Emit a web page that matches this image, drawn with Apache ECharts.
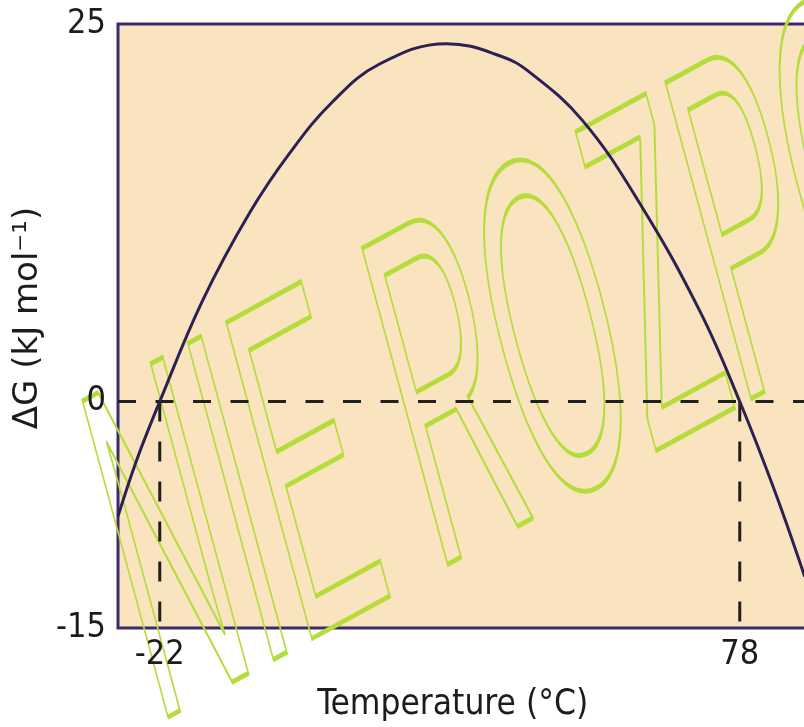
<!DOCTYPE html>
<html><head><meta charset="utf-8">
<script src="https://cdn.jsdelivr.net/npm/echarts@6/dist/echarts.min.js"></script>
<style>html,body{margin:0;padding:0;background:#fff;overflow:hidden}#c{width:880px;height:727px}</style>
</head><body><div id="c"></div>
<script>
// Data
const temps  = [-29.2, -26, -22, -14.6, -6.5, 0.4, 7.8, 15.9, 27.5, 36.6, 41.8, 50.9, 60.8, 71.1, 78, 84, 89.2];
const deltaG = [-7.6, -3.9, 0, 6.7, 12.5, 16.45, 19.85, 22.35, 23.7, 22.9, 21.8, 18.6, 13.1, 6.0, 0, -5.9, -11.6];
const roots = [-22, 78];
const xTickLabels = [-22, 78];
const yTickLabels = [-15, 0, 25];
const xRange = [-29.2, 95];
const yRange = [-15, 25];
const xTitle = 'Temperature (°C)';
const yTitle = 'ΔG (kJ mol⁻¹)';
const watermark = 'NIE ROZPO';

const chart = echarts.init(document.getElementById('c'), null, {renderer: 'canvas'});
const txt = '#1c1c1c';
const condensed = '"DejaVu Sans Condensed", "DejaVu Sans", sans-serif';

const curve = temps.map((t, i) => [t, deltaG[i]]);
const series = [
  {
    type: 'line', name: 'zero', silent: true, symbol: 'none', z: 3,
    data: [[xRange[0], 0], [xRange[1], 0]],
    lineStyle: {color: '#202020', width: 3, type: [18, 19.5]}
  }
];
roots.forEach(r => series.push({
  type: 'line', silent: true, symbol: 'none', z: 3,
  data: [[r, 0], [r, yRange[0]]],
  lineStyle: {color: '#202020', width: 3, type: [20, 20]}
}));
series.push({
  type: 'line', name: 'dG', symbol: 'none', smooth: 0.4, z: 5,
  data: curve,
  lineStyle: {color: '#2c2152', width: 3}
});

chart.setOption({
  animation: false,
  backgroundColor: '#ffffff',
  grid: {
    left: 118, top: 24, width: 720.36, height: 606,
    show: true, backgroundColor: '#f9e4bf', borderColor: '#3a2c6c', borderWidth: 3,
    containLabel: false
  },
  xAxis: {
    type: 'value', min: xRange[0], max: xRange[1],
    axisLine: {show: false}, axisTick: {show: false}, splitLine: {show: false},
    axisLabel: {customValues: xTickLabels, color: txt, fontSize: 34, fontFamily: condensed, margin: 10},
    name: xTitle, nameLocation: 'middle', nameGap: 59,
    nameTextStyle: {color: txt, fontSize: 35, fontFamily: condensed, padding: [0, 51, 0, 0]}
  },
  yAxis: {
    type: 'value', min: yRange[0], max: yRange[1],
    axisLine: {show: false}, axisTick: {show: false}, splitLine: {show: false},
    axisLabel: {customValues: yTickLabels, color: txt, fontSize: 34, fontFamily: condensed, margin: 12},
    name: yTitle, nameLocation: 'middle', nameGap: 61, nameRotate: 90,
    nameTextStyle: {color: txt, fontSize: 34, fontFamily: '"DejaVu Sans", sans-serif', padding: [0, 0, 0, 16]}
  },
  graphic: [{
    type: 'group', scaleY: 1.42, z: 100, silent: true,
    children: [{
      type: 'text', x: 122.0, y: 420.3, rotation: 0.367, scaleY: 2.25,
      style: {
        text: watermark, font: '154px "Liberation Sans"',
        fill: 'none', stroke: '#b4dc3a', lineWidth: 1.6,
        align: 'left', verticalAlign: 'middle'
      }
    }]
  }],
  series: series
});
</script>
</body></html>
